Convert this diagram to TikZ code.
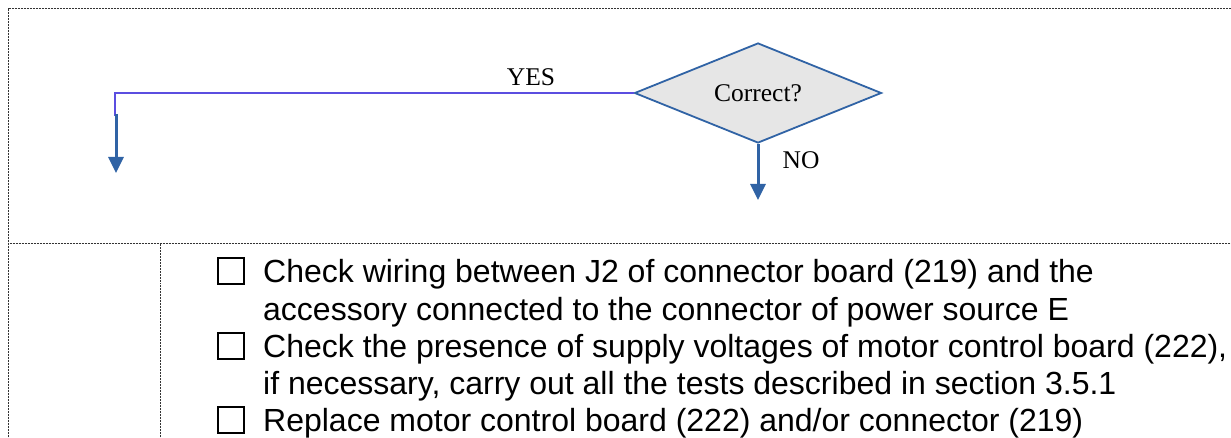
\documentclass[tikz,border=0pt]{standalone}
\usepackage{fontspec}
\setmainfont{Liberation Serif}
\newfontfamily\armfont{Liberation Sans}
\usetikzlibrary{shapes.geometric,arrows.meta}
\definecolor{flowblue}{HTML}{3063A5}
\definecolor{yesviolet}{HTML}{5B4EE0}
\definecolor{decfill}{HTML}{E6E6E6}
\definecolor{gridgray}{HTML}{333333}
\tikzset{
  gridline/.style={draw=gridgray, line width=1pt, dash pattern=on 1pt off 0.5pt},
  decision/.style={shape=diamond, draw=flowblue, fill=decfill, line width=1.8pt,
    inner sep=0pt, minimum width=247pt, minimum height=100pt, aspect=2.47,
    font=\fontsize{25.5}{30}\selectfont},
  flowlabel/.style={inner sep=0pt, font=\fontsize{25.5}{30}\selectfont},
  yesline/.style={draw=yesviolet, line width=2pt},
  flowarrow/.style={draw=flowblue, line width=3pt, -{Triangle[width=15pt,length=16pt]}},
  checkbox/.style={draw=black, line width=1.5pt},
  itemtext/.style={anchor=base west, inner sep=0pt, font=\armfont\fontsize{32}{37}\selectfont}
}
\begin{document}
\begin{tikzpicture}[x=1pt, y=-1pt]
\useasboundingbox (0,0) rectangle (1231,438);
% table grid
\draw[gridline] (1231,9) -- (8,9) -- (8,438);
\draw[gridline] (8,244) -- (1231,244);
\draw[gridline] (160,244) -- (160,438);
% decision
\node[decision] (dec) at (758,93) {\raisebox{-2pt}{Correct?}};
\coordinate (ycorner) at (115,93);
\coordinate (ybend) at (115,116);
\coordinate (ytip) at (116,173);
\coordinate (ntip) at (758,200);
\draw[yesline] (dec.west) -- (ycorner) -- (ybend);
\draw[flowarrow] (116,114) -- (ytip);
\draw[flowarrow] (dec.south) -- (ntip);
\node[flowlabel] (yes) at (531,77) {YES};
\node[flowlabel] (no) at (801,160) {NO};
% checklist
\draw[checkbox] (218,258) rectangle (244,284);
\draw[checkbox] (218,333) rectangle (244,359);
\draw[checkbox] (218,407) rectangle (244,433);
\node[itemtext] (l1) at (263,283) {Check wiring between J2 of connector board (219) and the};
\node[itemtext] (l2) at (263,320) {accessory connected to the connector of power source E};
\node[itemtext] (l3) at (263,357) {Check the presence of supply voltages of motor control board (222),};
\node[itemtext] (l4) at (263,394) {if necessary, carry out all the tests described in section 3.5.1};
\node[itemtext] (l5) at (263,431) {Replace motor control board (222) and/or connector (219)};
\end{tikzpicture}
\end{document}
